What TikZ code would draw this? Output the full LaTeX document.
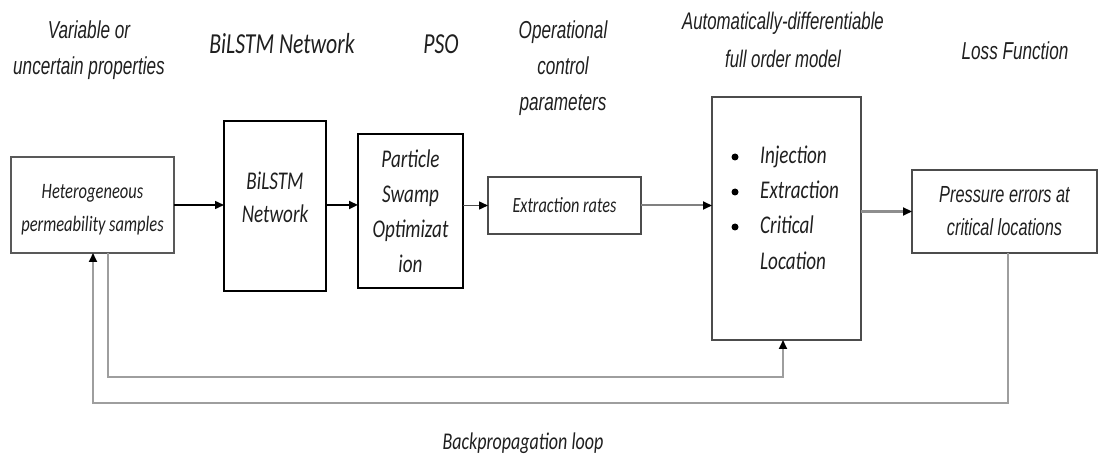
\documentclass[tikz,border=0pt]{standalone}
\usepackage{fontspec}
\usetikzlibrary{arrows.meta}
\newfontfamily\hdrfont[FakeStretch=0.7]{Liberation Sans}
\newfontfamily\calnarrow[FakeStretch=0.75]{Carlito}
\definecolor{txt}{gray}{0.12}
\definecolor{loopgray}{gray}{0.62}
\definecolor{boxgray}{gray}{0.3}
\begin{document}
\begin{tikzpicture}[x=1pt,y=-1pt,
  box/.style={draw=boxgray,line width=1.8pt,inner sep=0pt,outer sep=0pt,text=txt,align=center},
  heavybox/.style={draw=black,line width=2.6pt,inner sep=0pt,outer sep=0pt,text=txt,align=center},
  txtnode/.style={text=txt,align=center,inner sep=0pt},
  hdr/.style={txtnode,font=\hdrfont\itshape\fontsize{24.5}{36}\selectfont},
  hdrc/.style={txtnode,font=\calnarrow\itshape\fontsize{29}{32}\selectfont},
  item/.style={text=txt,anchor=base west,inner sep=0pt,font=\calnarrow\itshape\fontsize{25.5}{28}\selectfont},
  tip/.style={-{Triangle[length=9pt,width=8pt,color=black]}},
  loopline/.style={draw=loopgray,line width=1.8pt},
]
\useasboundingbox (0,0) rectangle (1101,454);

% headers
\node[hdr] (h1) at (89,50) {Variable or\\uncertain properties};
\node[hdrc] (h2) at (282,44) {BiLSTM Network};
\node[hdrc] (h3) at (441,44) {PSO};
\node[hdr] (h4) at (563,68) {Operational\\control\\parameters};
\node[hdr,font=\hdrfont\itshape\fontsize{24}{38}\selectfont] (h5) at (783,40) {Automatically-differentiable\\full order model};
\node[hdr] (h6) at (1015,51) {Loss Function};

% boxes
\node[box,draw={gray!70!black},minimum width=163pt,minimum height=96pt] (het) at (92.5,205) {};
\node[txtnode,font=\calnarrow\itshape\fontsize{22}{33}\selectfont] (hett) at (92.5,209.5)
  {Heterogeneous\\permeability samples};
\node[heavybox,minimum width=102pt,minimum height=170pt] (bil) at (275,206) {};
\node[txtnode,font=\calnarrow\itshape\fontsize{25.5}{33}\selectfont] (bilt) at (275,197)
  {BiLSTM\\Network};
\node[heavybox,minimum width=105pt,minimum height=154pt,
  font=\calnarrow\itshape\fontsize{25.5}{35}\selectfont] (pso) at (410.5,211)
  {Particle\\Swamp\\Optimizat\\ion};
\node[box,minimum width=153pt,minimum height=57pt,
  font=\calnarrow\itshape\fontsize{21.7}{24}\selectfont] (ext) at (564.5,205.5)
  {Extraction rates};
\node[box,minimum width=149pt,minimum height=243pt] (fom) at (786.5,218.5) {};
\node[box,minimum width=185pt,minimum height=83pt,
  font=\hdrfont\itshape\fontsize{23.3}{33}\selectfont] (prs) at (1004.5,211.5)
  {Pressure errors at\\critical locations};

% items in the full order model box
\node[item] (i1t) at (760,164) {Injection};
\node[item] (i2t) at (760,199) {Extraction};
\node[item] (i3t) at (760,234) {Critical};
\node[item] (i4t) at (760,270) {Location};
\fill[black] (735,157) circle (3.5pt) (735,192) circle (3.5pt) (735,227) circle (3.5pt);

% forward arrows
\draw[tip,black,line width=1.5pt] (het.east) -- (bil.west |- het.east);
\draw[tip,black,line width=2.6pt] (bil.east |- het.east) -- (pso.west |- het.east);
\draw[tip,boxgray,line width=1.5pt] (pso.east |- ext.west) -- (ext.west);
\draw[tip,gray,line width=2pt] (ext.east) -- (fom.west |- ext.east);
\draw[tip,loopgray!90!black,line width=2.2pt] (fom.east |- prs.west) -- (prs.west);

% loops
\coordinate (o1) at (1008,403);
\coordinate (o2) at (93,403);
\draw[loopline,tip] (prs.south -| o1) -- (o1) -- (o2) -- (het.south -| o2);
\coordinate (l1) at (108,377);
\coordinate (l2) at (783,377);
\draw[loopline,tip] (het.south -| l1) -- (l1) -- (l2) -- (fom.south -| l2);

\node[txtnode,font=\calnarrow\itshape\fontsize{24}{28}\selectfont] (bp) at (523,443) {Backpropagation loop};
\end{tikzpicture}
\end{document}
